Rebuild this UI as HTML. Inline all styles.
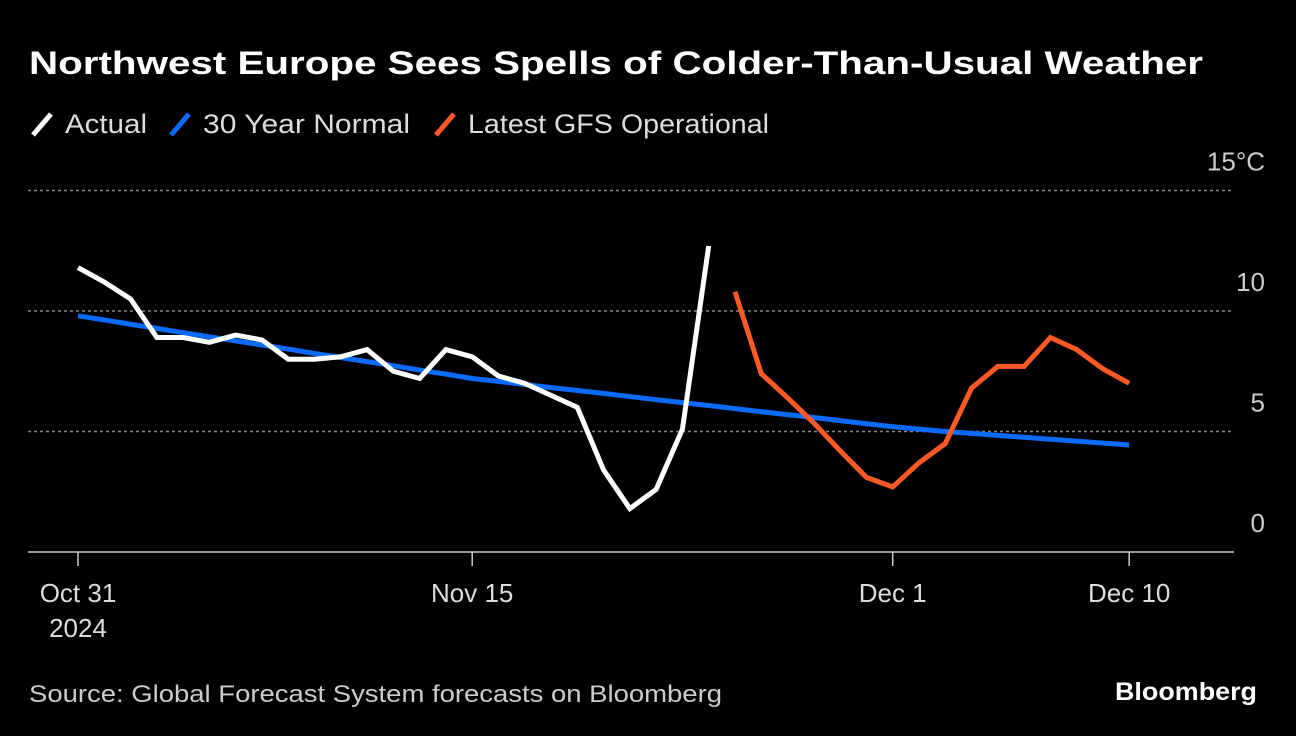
<!DOCTYPE html>
<html><head><meta charset="utf-8"><style>
body{margin:0;background:#000;width:1296px;height:736px;overflow:hidden;font-family:"Liberation Sans",sans-serif;color:#fff}
</style></head><body>
<svg width="1296" height="736" style="position:absolute;left:0;top:0">
<text x="29" y="74" font-size="32" font-weight="bold" fill="#fff" textLength="1174" lengthAdjust="spacingAndGlyphs">Northwest Europe Sees Spells of Colder-Than-Usual Weather</text>
<g font-size="27" fill="#ddd">
<line x1="33" y1="135" x2="51" y2="114" stroke="#fff" stroke-width="5"/>
<text x="65" y="133" textLength="82" lengthAdjust="spacingAndGlyphs">Actual</text>
<line x1="171" y1="135" x2="189" y2="114" stroke="#0a6bff" stroke-width="5"/>
<text x="203" y="133" textLength="207" lengthAdjust="spacingAndGlyphs">30 Year Normal</text>
<line x1="436" y1="135" x2="454" y2="114" stroke="#ff5a26" stroke-width="5"/>
<text x="468" y="133" textLength="301" lengthAdjust="spacingAndGlyphs">Latest GFS Operational</text>
</g>
<g id="grid"></g><g id="series"></g>
<text x="29" y="702" font-size="24" fill="#ccc" textLength="693" lengthAdjust="spacingAndGlyphs">Source: Global Forecast System forecasts on Bloomberg</text>
<text x="1115" y="700" font-size="25" font-weight="bold" fill="#fff" textLength="142" lengthAdjust="spacingAndGlyphs">Bloomberg</text>
</svg>
<script>
const yTicks=[0,5,10,15];
const yTickLabels=["0","5","10","15°C"];
const xTickDays=[0,15,31,40];
const xTickLabels=["Oct 31","Nov 15","Dec 1","Dec 10"];
const actual=[11.8,11.2,10.5,8.9,8.9,8.7,9.0,8.8,8.0,8.0,8.1,8.4,7.5,7.2,8.4,8.1,7.3,7.0,6.5,6.0,3.4,1.8,2.6,5.1,12.7];
const normal=[9.8,9.63,9.45,9.28,9.1,8.93,8.76,8.59,8.42,8.24,8.07,7.9,7.73,7.55,7.38,7.2,7.08,6.95,6.82,6.7,6.58,6.45,6.32,6.2,6.08,5.95,5.82,5.7,5.58,5.45,5.32,5.2,5.1,5.0,4.92,4.84,4.76,4.68,4.6,4.52,4.44];
const gfsStart=25;
const gfs=[10.8,7.4,6.4,5.35,4.2,3.1,2.7,3.7,4.5,6.8,7.7,7.7,8.9,8.4,7.6,7.0];
const NS="http://www.w3.org/2000/svg";
const X=d=>78+d*26.28, Y=v=>552-v*24.1;
const grid=document.getElementById('grid'), ser=document.getElementById('series');
function mk(tag,attrs,parent){const e=document.createElementNS(NS,tag);for(const k in attrs)e.setAttribute(k,attrs[k]);parent.appendChild(e);return e;}
yTicks.forEach((t,i)=>{
  if(t>0){const l=mk('line',{x1:28,x2:1234,y1:Y(t),y2:Y(t),stroke:'#888','stroke-width':1.5,'stroke-dasharray':'3,3'},grid);
  
  }
  const tx=mk('text',{x:1265,y:Y(t)-20,'font-size':26,fill:'#ccc','text-anchor':'end'},grid);
  tx.textContent=yTickLabels[i];
  
  
});
const base=mk('line',{x1:28,x2:1234,y1:552,y2:552,stroke:'#ccc','stroke-width':1.5},grid);


xTickDays.forEach((d,i)=>{
  const tk=mk('line',{x1:X(d),x2:X(d),y1:552,y2:566,stroke:'#ccc','stroke-width':1.5},grid);
  
  
  const tx=mk('text',{x:X(d),y:602,'font-size':26,fill:'#ddd','text-anchor':'middle'},grid);
  tx.textContent=xTickLabels[i];
  
  
});
const yr=mk('text',{x:X(0),y:637,'font-size':26,fill:'#ddd','text-anchor':'middle'},grid);
yr.textContent="2024";


function line(vals,start,color,name){
  const p=mk('polyline',{points:vals.map((v,i)=>X(start+i)+','+Y(v)).join(' '),fill:'none',stroke:color,'stroke-width':5,'stroke-linejoin':'miter'},ser);
  
  
}
line(normal,0,'#0a6bff','normal-line');
line(actual,0,'#fff','actual-line');
line(gfs,gfsStart,'#ff5a26','gfs-line');
</script>
</body></html>
